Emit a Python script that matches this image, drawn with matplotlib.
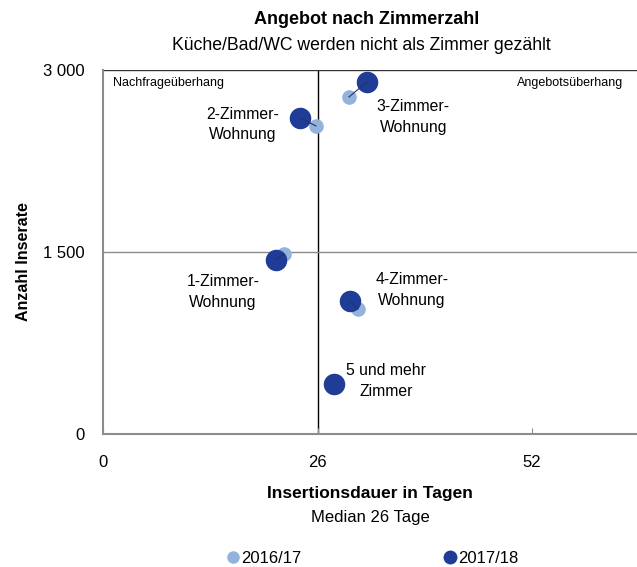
import matplotlib.pyplot as plt
from matplotlib.lines import Line2D
from matplotlib.ticker import FuncFormatter

plt.rcParams['font.family'] = ['Liberation Sans', 'DejaVu Sans']

# Daten
kategorien = ['1-Zimmer-\nWohnung', '2-Zimmer-\nWohnung', '3-Zimmer-\nWohnung',
              '4-Zimmer-\nWohnung', '5 und mehr\nZimmer']
dauer_1617 = [21.9, 25.8, 29.8, 30.9, 28.0]
inserate_1617 = [1484, 2539, 2778, 1030, 412]
dauer_1718 = [21.0, 23.9, 32.0, 29.9, 28.0]
inserate_1718 = [1434, 2605, 2902, 1096, 412]
median_tage = 26
median_inserate = 1500

# Beschriftungspositionen
label_x = [14.55, 16.97, 37.6, 37.45, 34.3]
label_y = [1170, 2549, 2613, 1187, 437]

hell = '#93b3dc'
dunkel = '#1f3d96'
grau = '#8c8c8c'

fig = plt.figure(figsize=(6.37, 5.67), dpi=100)
ax = fig.add_axes([0.1617, 0.2346, 0.8383, 0.6419])

ax.axvline(median_tage, color='black', lw=1.0, zorder=1)
ax.axhline(median_inserate, color=grau, lw=1.0, zorder=1)
ax.axhline(3000, color='#333333', lw=1.0, zorder=1)

ax.scatter(dauer_1617, inserate_1617, s=90, color=hell, zorder=2)
ax.scatter(dauer_1718, inserate_1718, s=210, color=dunkel, zorder=3)
for i in range(len(kategorien)):
    ax.plot([dauer_1617[i], dauer_1718[i]], [inserate_1617[i], inserate_1718[i]],
            color='#22336e', lw=0.8, zorder=4)
    ax.text(label_x[i], label_y[i], kategorien[i], ha='center', va='center',
            fontsize=11.3, linespacing=1.45)

ax.text(1.2, 2890, 'Nachfrageüberhang', fontsize=9, va='center', ha='left')
ax.text(63, 2890, 'Angebotsüberhang', fontsize=9, va='center', ha='right')

ax.set_xlim(0, 64.7)
ax.set_ylim(0, 3000)
ax.set_xticks([0, 26, 52])
ax.set_yticks([0, 1500, 3000])
ax.yaxis.set_major_formatter(FuncFormatter(lambda v, p: '{:,.0f}'.format(v).replace(',', ' ')))
ax.tick_params(axis='x', direction='in', length=4, color=grau, labelsize=12, pad=15)
ax.tick_params(axis='y', length=0, labelsize=12, pad=13)

for s in ['top', 'right']:
    ax.spines[s].set_visible(False)
for s in ['left', 'bottom']:
    ax.spines[s].set_color(grau)
    ax.spines[s].set_linewidth(1.5)

ax.set_xlabel('Insertionsdauer in Tagen', fontsize=12.5, fontweight='bold', labelpad=12)
fig.text(0.581, 0.087, 'Median 26 Tage', ha='center', va='center', fontsize=12)
ax.set_ylabel('Anzahl Inserate', fontsize=11.5, fontweight='bold', labelpad=10)
ax.yaxis.set_label_coords(-0.135, 0.475)

fig.text(0.575, 0.965, 'Angebot nach Zimmerzahl', ha='center', va='center',
         fontsize=13, fontweight='bold')
fig.text(0.567, 0.919, 'Küche/Bad/WC werden nicht als Zimmer gezählt', ha='center',
         va='center', fontsize=12.7)

handles = [Line2D([], [], ls='', marker='o', ms=8, color=hell),
           Line2D([], [], ls='', marker='o', ms=9, color=dunkel)]
fig.legend(handles, ['2016/17', '2017/18'], loc='center', bbox_to_anchor=(0.583, 0.015),
           ncol=2, frameon=False, fontsize=12, columnspacing=8.4, handletextpad=0.0,
           handlelength=1.0)

fig.savefig('out.png', dpi=100)
